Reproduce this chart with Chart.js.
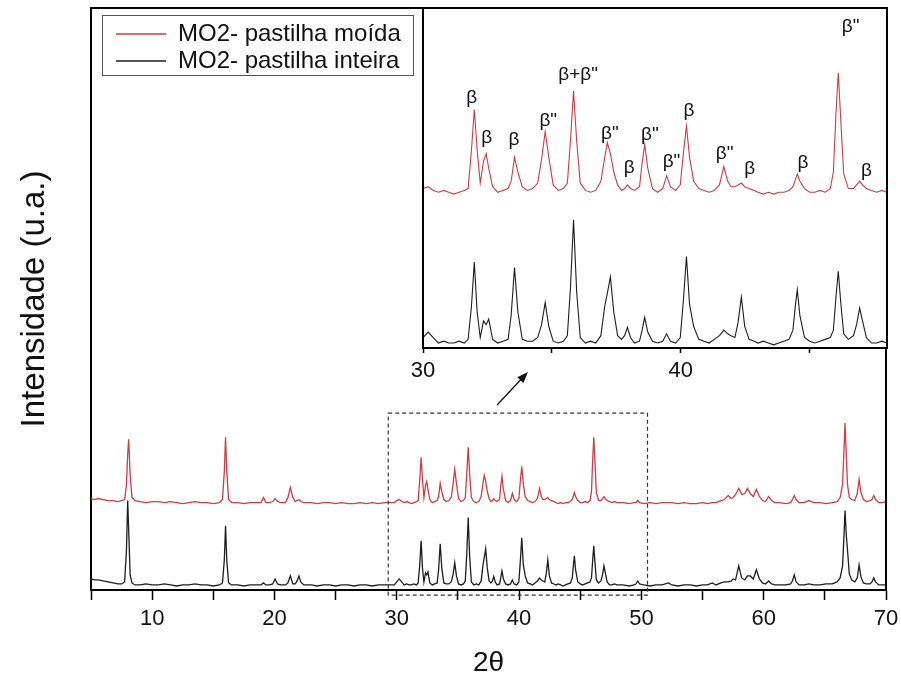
<!DOCTYPE html>
<html>
<head>
<meta charset="utf-8">
<script src="https://cdn.jsdelivr.net/npm/chart.js@4.4.1/dist/chart.umd.min.js"></script>
<style>
  html, body { margin: 0; padding: 0; background: #fff; }
  #wrap { position: relative; width: 901px; height: 686px; }
  #mainChart { position: absolute; left: 0; top: 0; }
  #insetChart { position: absolute; left: 380px; top: 0; }
</style>
</head>
<body>
<div id="wrap">
  <canvas id="mainChart" width="901" height="686"></canvas>
  <canvas id="insetChart" width="521" height="400"></canvas>
</div>
<script>
// 2theta (degrees), same grid for both patterns
const angles = [
  5.0, 5.3, 5.6, 6.0, 6.4, 6.8, 7.2, 7.5,
  7.75, 7.9, 8.0, 8.08, 8.2, 8.35, 8.6,
  9.0, 9.5, 10.0, 10.5, 11.0, 11.5, 12.0, 12.5, 13.0, 13.5, 14.0, 14.5, 15.0, 15.5,
  15.75, 15.9, 16.0, 16.1, 16.25, 16.5,
  17.0, 17.5, 18.0, 18.5, 18.9, 19.1, 19.3, 19.6, 19.85, 20.05, 20.25, 20.5, 20.9, 21.1, 21.3, 21.5, 21.7, 21.85, 22.0, 22.15, 22.4,
  23.0, 23.5, 24.0, 24.5, 25.0, 25.5, 26.0, 26.5, 27.0, 27.5, 28.0, 28.5, 29.0, 29.5,
  29.8, 30.0, 30.2, 30.4, 30.6, 30.8, 31.0, 31.2, 31.4, 31.6,
  31.75, 31.88, 31.99, 32.1, 32.22, 32.35, 32.45, 32.55, 32.7, 32.9,
  33.1, 33.3, 33.42, 33.55, 33.68, 33.85, 34.05, 34.25, 34.45, 34.6, 34.74, 34.88, 35.05, 35.25, 35.45,
  35.6, 35.72, 35.84, 35.96, 36.1, 36.3, 36.5, 36.7,
  36.9, 37.05, 37.15, 37.27, 37.4, 37.55, 37.7, 37.82, 37.93, 38.05, 38.2,
  38.4, 38.5, 38.6, 38.72, 38.9, 39.1, 39.3, 39.45, 39.6, 39.8,
  39.98, 40.1, 40.22, 40.34, 40.5, 40.7, 40.9, 41.1, 41.3,
  41.5, 41.67, 41.82, 41.95, 42.1, 42.22, 42.35, 42.48, 42.65, 42.85,
  43.0, 43.2, 43.4, 43.6, 43.8, 44.0, 44.2, 44.35, 44.45, 44.52, 44.62, 44.8, 45.0, 45.2, 45.4, 45.6, 45.8,
  45.92, 46.02, 46.11, 46.2, 46.32, 46.5, 46.7, 46.82, 46.94, 47.05, 47.2, 47.4, 47.6, 47.8, 48.0,
  48.5, 49.0, 49.4, 49.55, 49.7, 49.85, 50.2, 50.7, 51.2, 51.7, 52.2, 52.5, 53.0, 53.5, 54.0, 54.5, 55.0, 55.4, 55.8, 56.1, 56.5, 56.8,
  57.1, 57.35, 57.5, 57.7, 57.96, 58.2, 58.45, 58.67, 58.9, 59.15, 59.4, 59.65, 59.9, 60.15, 60.4, 60.65, 60.9,
  61.3, 61.8, 62.2, 62.35, 62.5, 62.65, 62.9, 63.3, 63.7, 64.1, 64.6, 65.1, 65.6, 66.0, 66.25,
  66.45, 66.55, 66.65, 66.75, 66.85, 67.0, 67.2, 67.45, 67.65, 67.8, 67.95, 68.15, 68.4, 68.7, 68.85, 69.0, 69.15, 69.4, 69.7, 70.0,
];

// MO2- pastilha inteira (black)
const inteira = [
  11, 10, 10, 9, 8, 7, 6, 6,
  8, 40, 89, 60, 15, 7, 5,
  5, 6, 5, 5, 6, 5, 4, 5, 5, 6, 5, 5, 4, 5,
  7, 30, 64, 30, 7, 5,
  5, 4, 5, 5, 5, 7, 5, 5, 6, 11, 6, 5, 5, 7, 14, 6, 6, 9, 14, 8, 5,
  5, 4, 5, 5, 4, 5, 5, 4, 5, 5, 4, 5, 5, 5,
  5, 8, 11, 8, 5, 6, 5, 5, 6, 5,
  7, 25, 49, 22, 8, 17, 15, 18, 7, 5,
  6, 7, 20, 46, 22, 7, 6, 6, 8, 15, 27, 14, 6, 5, 6,
  9, 35, 72, 33, 8, 5, 6, 5,
  9, 25, 32, 41, 22, 9, 7, 9, 13.5, 8, 5,
  6, 12, 19, 11, 6, 5, 6, 10, 6, 5,
  8, 28, 52, 26, 14, 7, 6, 5, 7,
  9, 12, 10, 9, 8, 16, 30, 14, 7, 6,
  5, 6, 5, 4, 5, 6, 7, 12, 26, 34, 20, 8, 6, 5, 6, 7, 8,
  12, 30, 44, 28, 10, 7, 9, 15, 24, 17, 8, 5, 5, 6, 5,
  5, 4, 5, 6, 9, 6, 5, 4, 5, 5, 7, 5, 4, 5, 5, 4, 5, 5, 7, 5, 7, 8,
  8, 9, 11, 10, 24, 12, 10, 14, 14, 11, 20, 11, 7, 6, 9, 6, 5,
  5, 5, 6, 9, 15, 8, 5, 5, 6, 5, 5, 6, 6, 8, 12,
  24, 50, 79, 55, 40, 16, 10, 8, 12, 25, 13, 7, 6, 6, 8, 12, 8, 5, 5, 5,
];

// MO2- pastilha moida (red, already offset upwards)
const moida = [
  91, 90, 91, 90, 89, 89, 88, 89,
  90, 105, 135, 150, 115, 92, 89,
  88, 87, 88, 88, 87, 88, 87, 86, 87, 88, 87, 87, 86, 87,
  90, 118, 152, 118, 90, 87,
  87, 86, 87, 87, 87, 92, 87, 87, 88, 91, 88, 87, 87, 92, 102, 92, 88, 89, 90, 88, 87,
  87, 86, 87, 87, 86, 87, 86, 86, 87, 86, 87, 86, 87, 87,
  87, 89, 90, 88, 87, 88, 87, 86, 87, 88,
  89, 110, 132, 110, 92, 104, 108, 100, 90, 87,
  88, 89, 93, 106, 98, 90, 88, 89, 92, 105, 120, 106, 91, 88, 89,
  92, 115, 142, 115, 92, 88, 87, 88,
  93, 106, 114, 108, 98, 91, 88, 89, 91, 89, 88,
  90, 103, 113, 100, 89, 87, 89, 96, 90, 88,
  91, 108, 123, 106, 93, 89, 88, 87, 88,
  91, 101, 93, 90, 90, 91, 92, 90, 89, 88,
  87, 86, 87, 86, 87, 87, 88, 90, 94, 97, 93, 89, 87, 87, 88, 87, 89,
  98, 130, 152, 128, 97, 89, 89, 91, 93, 91, 89, 88, 87, 88, 87,
  87, 86, 87, 87, 89, 87, 86, 87, 86, 87, 87, 87, 86, 87, 86, 86, 87, 86, 87, 87, 89, 90,
  94, 91, 92, 95, 101, 95, 96, 101, 96, 93, 100, 93, 89, 88, 93, 89, 87,
  87, 86, 87, 90, 94, 90, 87, 87, 89, 87, 87, 86, 87, 88, 92,
  105, 135, 166, 135, 105, 92, 90, 89, 96, 110, 97, 90, 88, 89, 90, 94, 90, 87, 87, 88,
];

// phase labels in the inset
const peakLabels = ["β", "β", "β", "β\"", "β+β\"", "β\"", "β", "β\"", "β\"", "β", "β\"", "β", "β", "β\"", "β"];
const peakLabelAngles = [31.89, 32.47, 33.53, 34.86, 36.02, 37.25, 38.0, 38.8, 39.64, 40.32, 41.7, 42.67, 44.74, 46.59, 47.2];
const peakLabelHeights = [138.4, 116.7, 115.8, 125.7, 151, 119, 100.5, 118.5, 103.5, 131.1, 107.7, 99.6, 103.2, 176.9, 98.7];

const mainRange = { xMin: 5, xMax: 70, yMin: 0, yMax: 579 };
const insetRange = { xMin: 30, xMax: 48, yMin: 2.3, yMax: 187.2 };
const zoomBox = { x0: 29.3, x1: 50.5, y0: -5, y1: 176 };
const arrow = { x0: 38.2, y0: 184, x1: 40.73, y1: 217 };

const RED = "#d23c44";
const BLACK = "#1e1e1e";
const FONT = "'Liberation Sans', Arial, sans-serif";

const toPoints = (ys) => angles.map((a, i) => ({ x: a, y: ys[i] }));

const framePlugin = {
  id: "frame",
  afterLayout(chart) {
    const { legend, chartArea } = chart;
    if (legend) {
      legend.left = chartArea.left + 22;
      legend.top = chartArea.top + 11;
    }
  },
  afterDraw(chart) {
    const { ctx, chartArea, scales } = chart;
    const { x, y } = scales;
    ctx.save();
    ctx.strokeStyle = "#000";
    ctx.lineWidth = 2;
    ctx.beginPath();
    ctx.moveTo(chartArea.left, chartArea.top);
    ctx.lineTo(chartArea.right, chartArea.top);
    ctx.lineTo(chartArea.right, chartArea.bottom);
    ctx.stroke();

    // legend frame
    const lg = chart.legend;
    ctx.strokeStyle = "#555";
    ctx.lineWidth = 1;
    ctx.strokeRect(lg.left - 11 + 0.5, lg.top - 4 + 0.5, 311, 60);

    // dashed zoom box
    ctx.strokeStyle = "#333";
    ctx.lineWidth = 1.2;
    ctx.setLineDash([4, 3]);
    const bx0 = x.getPixelForValue(zoomBox.x0);
    const bx1 = x.getPixelForValue(zoomBox.x1);
    const by0 = y.getPixelForValue(zoomBox.y0);
    const by1 = y.getPixelForValue(zoomBox.y1);
    ctx.strokeRect(bx0, by1, bx1 - bx0, by0 - by1);
    ctx.setLineDash([]);

    // arrow to the inset
    const ax0 = x.getPixelForValue(arrow.x0);
    const ay0 = y.getPixelForValue(arrow.y0);
    const ax1 = x.getPixelForValue(arrow.x1);
    const ay1 = y.getPixelForValue(arrow.y1);
    const ang = Math.atan2(ay1 - ay0, ax1 - ax0);
    ctx.strokeStyle = "#111";
    ctx.fillStyle = "#111";
    ctx.lineWidth = 1.3;
    ctx.beginPath();
    ctx.moveTo(ax0, ay0);
    ctx.lineTo(ax1 - 8 * Math.cos(ang), ay1 - 8 * Math.sin(ang));
    ctx.stroke();
    ctx.beginPath();
    ctx.moveTo(ax1, ay1);
    ctx.lineTo(ax1 - 12 * Math.cos(ang - 0.35), ay1 - 12 * Math.sin(ang - 0.35));
    ctx.lineTo(ax1 - 12 * Math.cos(ang + 0.35), ay1 - 12 * Math.sin(ang + 0.35));
    ctx.closePath();
    ctx.fill();
    ctx.restore();
  },
};

const insetPlugin = {
  id: "insetFrame",
  beforeDraw(chart) {
    const { ctx, chartArea } = chart;
    ctx.save();
    ctx.fillStyle = "#fff";
    ctx.fillRect(chartArea.left, chartArea.top, chartArea.right - chartArea.left, chartArea.bottom - chartArea.top);
    ctx.restore();
  },
  afterDraw(chart) {
    const { ctx, chartArea, scales } = chart;
    ctx.save();
    ctx.strokeStyle = "#000";
    ctx.lineWidth = 2;
    ctx.strokeRect(chartArea.left, chartArea.top, chartArea.right - chartArea.left, chartArea.bottom - chartArea.top);
    ctx.fillStyle = "#111";
    ctx.font = "19px " + FONT;
    ctx.textAlign = "center";
    ctx.textBaseline = "middle";
    peakLabels.forEach((txt, i) => {
      ctx.fillText(txt, scales.x.getPixelForValue(peakLabelAngles[i]), scales.y.getPixelForValue(peakLabelHeights[i]));
    });
    ctx.restore();
  },
};

const tickEvery10 = (v) => (v % 10 === 0 ? String(v) : "");

function datasets(width) {
  return [
    {
      label: "MO2- pastilha moída",
      data: toPoints(moida),
      borderColor: RED,
      borderWidth: width,
      pointRadius: 0,
      fill: false,
    },
    {
      label: "MO2- pastilha inteira",
      data: toPoints(inteira),
      borderColor: BLACK,
      borderWidth: width,
      pointRadius: 0,
      fill: false,
    },
  ];
}

new Chart(document.getElementById("mainChart"), {
  type: "line",
  data: { datasets: datasets(1.3) },
  plugins: [framePlugin],
  options: {
    responsive: false,
    animation: false,
    devicePixelRatio: 1,
    layout: { padding: { left: 15, right: 15, top: 8, bottom: 6 } },
    plugins: {
      tooltip: { enabled: false },
      legend: {
        position: "chartArea",
        align: "start",
        labels: {
          usePointStyle: true,
          pointStyle: "line",
          pointStyleWidth: 50,
          padding: 3,
          color: "#111",
          font: { family: FONT, size: 24 },
        },
      },
    },
    scales: {
      x: {
        type: "linear",
        min: mainRange.xMin,
        max: mainRange.xMax,
        afterFit: (scale) => { scale.paddingRight = 0; },
        border: { display: true, color: "#000", width: 2 },
        grid: { drawOnChartArea: false, drawTicks: true, tickLength: 10, tickColor: "#000", tickWidth: 1.5 },
        ticks: { stepSize: 5, padding: 6, color: "#111", font: { family: FONT, size: 22 }, callback: tickEvery10, maxRotation: 0, autoSkip: false },
        title: { display: true, text: "2θ", color: "#111", font: { family: FONT, size: 28 }, padding: { top: 8, bottom: 0 } },
      },
      y: {
        min: mainRange.yMin,
        max: mainRange.yMax,
        border: { display: true, color: "#000", width: 2 },
        grid: { drawOnChartArea: false, drawTicks: false },
        ticks: { display: false },
        title: { display: true, text: "Intensidade (u.a.)", color: "#111", font: { family: FONT, size: 33 }, padding: { top: 0, bottom: 36.4 } },
      },
    },
  },
});

new Chart(document.getElementById("insetChart"), {
  type: "line",
  data: { datasets: datasets(1.1) },
  plugins: [insetPlugin],
  options: {
    responsive: false,
    animation: false,
    devicePixelRatio: 1,
    layout: { padding: { left: 43, right: 14, top: 8, bottom: 10.6 } },
    plugins: { legend: { display: false }, tooltip: { enabled: false } },
    scales: {
      x: {
        type: "linear",
        min: insetRange.xMin,
        max: insetRange.xMax,
        border: { display: true, color: "#000", width: 2 },
        grid: { drawOnChartArea: false, drawTicks: true, tickLength: 5, tickColor: "#000", tickWidth: 1.5 },
        ticks: { stepSize: 5, includeBounds: false, padding: 5, color: "#111", font: { family: FONT, size: 22 }, callback: tickEvery10, maxRotation: 0, autoSkip: false },
      },
      y: { display: false, min: insetRange.yMin, max: insetRange.yMax },
    },
  },
});
</script>
</body>
</html>
